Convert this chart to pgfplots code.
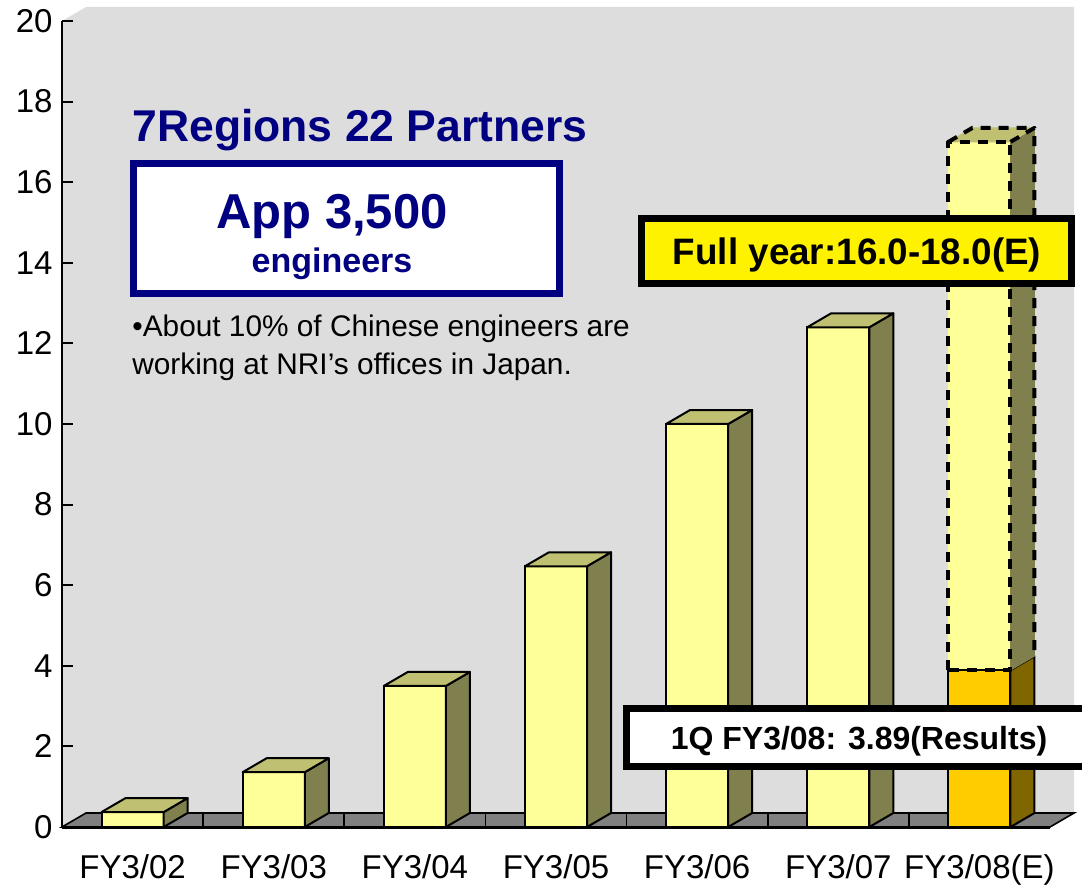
\documentclass[border=0pt]{standalone}
\usepackage{pgfplots}
\pgfplotsset{compat=1.18}
\usepackage{pgfplotstable}
\usepackage{fontspec}
\setmainfont{Liberation Sans}
\definecolor{wall}{RGB}{221,221,221}
\definecolor{floorc}{RGB}{128,128,128}
\definecolor{barfront}{RGB}{255,255,153}
\definecolor{barside}{RGB}{128,128,78}
\definecolor{bartop}{RGB}{192,192,115}
\definecolor{orangefront}{RGB}{255,204,0}
\definecolor{orangeside}{RGB}{128,102,0}
\definecolor{navy}{RGB}{0,0,128}
\pgfdeclareplotmark{nothing}{}

\pgfplotstableread{
x val
0 0.37
1 1.36
2 3.50
3 6.47
4 10.00
5 12.40
}\bars
\pgfplotstableread{
x val
6 3.89
}\firstq
\pgfplotstableread{
x base val
6 3.89 17.0
}\fullyear

\newcommand\dx{0.17}
\newcommand\dy{0.347}
\newcommand\hw{0.22}
\tikzset{units/.style={x=70.5714pt,y=20.15pt,line join=round}}

\begin{document}
\begin{tikzpicture}
\begin{axis}[name=ax,
  scale only axis, width=494pt, height=403pt,
  xmin=-0.5, xmax=6.5, ymin=0, ymax=20,
  clip=false,
  axis x line=bottom, axis y line=left,
  axis line style={-, line width=1pt, black},
  x axis line style={line width=1.5pt},
  xtick={0,...,6},
  xticklabels={FY3/02,FY3/03,FY3/04,FY3/05,FY3/06,FY3/07,FY3/08(E)},
  xtick style={draw=none},
  ytick={0,2,...,20},
  ytick style={line width=1pt, black},
  tick align=inside, major tick length=5.5pt,
  /pgf/number format/assume math mode=true,
  tick label style={font=\fontsize{16.5}{19}\selectfont, inner sep=0pt},
  xticklabel style={anchor=base, yshift=-25.5pt},
  yticklabel style={anchor=east, xshift=-4.5pt},
  axis on top,
]
% walls and floor
\addplot[fill=wall, draw=none, forget plot] coordinates {(-0.5,0) (-0.5,20) (-0.33,20.347) (6.67,20.347) (6.67,0.347) (6.5,0)} -- cycle;
\addplot[fill=floorc, draw=black, line width=0.8pt, forget plot] coordinates {(-0.5,0) (-0.33,0.347) (6.67,0.347) (6.5,0)} -- cycle;
\addplot[ycomb, black, line width=0.8pt, mark=none, forget plot] coordinates {(0.5,0.347) (1.5,0.347) (2.5,0.347) (3.5,0.347) (4.5,0.347) (5.5,0.347)};

% front faces
\addplot[ybar, bar width=0.44, bar shift=0pt, fill=barfront, draw=black, line width=1pt, forget plot] table[x=x,y=val]{\bars};
\addplot[ybar, bar width=0.44, bar shift=0pt, fill=barfront, draw=none, forget plot] table[x=x,y=val]{\fullyear};
\addplot[ybar, bar width=0.44, bar shift=0pt, fill=orangefront, draw=black, line width=1pt, forget plot] table[x=x,y=val]{\firstq};

% 3D side and top faces
\addplot[scatter, only marks, mark=nothing, forget plot,
  visualization depends on={\thisrow{val} \as \val},
  scatter/@pre marker code/.code={%
    \begin{scope}[units, line width=1pt]
      \filldraw[fill=barside, draw=black] (\hw,0) -- ++(\dx,\dy) -- ++(0,-\val) -- (\hw,-\val) -- cycle;
      \filldraw[fill=bartop, draw=black] (-\hw,0) -- ++(\dx,\dy) -- ++(2*\hw,0) -- (\hw,0) -- cycle;
    \end{scope}},
  scatter/@post marker code/.code={}
] table[x=x,y=val]{\bars};

\addplot[scatter, only marks, mark=nothing, forget plot,
  visualization depends on={\thisrow{val} \as \val},
  scatter/@pre marker code/.code={%
    \begin{scope}[units, line width=1pt]
      \filldraw[fill=orangeside, draw=black] (\hw,0) -- ++(\dx,\dy) -- ++(0,-\val) -- (\hw,-\val) -- cycle;
    \end{scope}},
  scatter/@post marker code/.code={}
] table[x=x,y=val]{\firstq};

\addplot[scatter, only marks, mark=nothing, forget plot,
  visualization depends on={\thisrow{val}-\thisrow{base} \as \hh},
  scatter/@pre marker code/.code={%
    \begin{scope}[units]
      \fill[barside] (\hw,0) -- ++(\dx,\dy) -- ++(0,-\hh) -- (\hw,-\hh) -- cycle;
      \fill[bartop] (-\hw,0) -- ++(\dx,\dy) -- ++(2*\hw,0) -- (\hw,0) -- cycle;
      \begin{scope}[black, line width=2pt, dash pattern=on 5pt off 4pt]
        \draw (-\hw,-\hh) rectangle (\hw,0);
        \draw (\hw,0) -- ++(\dx,\dy) -- ++(0,-\hh);
        \draw (-\hw,0) -- ++(\dx,\dy) -- ++(2*\hw,0);
      \end{scope}
    \end{scope}},
  scatter/@post marker code/.code={}
] table[x=x,y=val]{\fullyear};

% anchor points for annotations
\coordinate (ttl) at (axis cs:-0.004,17.02);
\coordinate (nbox) at (axis cs:1.516,14.85);
\coordinate (app) at (axis cs:1.413,14.86);
\coordinate (eng) at (axis cs:1.413,13.75);
\coordinate (bl1) at (axis cs:-0.004,12.16);
\coordinate (bl2) at (axis cs:-0.004,11.22);
\coordinate (ybox) at (axis cs:5.129,14.29);
\coordinate (ytxt) at (axis cs:5.133,13.95);
\coordinate (qbox) at (axis cs:5.159,2.221);
\coordinate (qtxt) at (axis cs:5.147,1.911);
\end{axis}

\node[anchor=base west, text=navy, font=\bfseries\fontsize{22.25}{26}\selectfont, inner sep=0pt] at (ttl) {7Regions 22 Partners};
\node[draw=navy, fill=white, line width=3.5pt, minimum width=213pt, minimum height=65pt, inner sep=0pt] at (nbox) {};
\node[anchor=base, text=navy, font=\bfseries\fontsize{24.5}{28}\selectfont, inner sep=0pt] at (app) {App 3,500};
\node[anchor=base, text=navy, font=\bfseries\fontsize{17}{20}\selectfont, inner sep=0pt] at (eng) {engineers};
\node[anchor=base west, font=\fontsize{14.9}{19}\selectfont, inner sep=0pt] at (bl1) {•About 10\% of Chinese engineers are};
\node[anchor=base west, font=\fontsize{14.9}{19}\selectfont, inner sep=0pt] at (bl2) {working at NRI’s offices in Japan.};

\node[draw=black, fill=yellow, line width=3.5pt, minimum width=215pt, minimum height=32.5pt, inner sep=0pt] at (ybox) {};
\node[anchor=base, font=\bfseries\fontsize{18.4}{22}\selectfont, inner sep=0pt] at (ytxt) {Full year:16.0-18.0(E)};

\node[draw=black, fill=white, line width=3.5pt, minimum width=234pt, minimum height=29pt, inner sep=0pt] at (qbox) {};
\node[anchor=base, font=\bfseries\fontsize{16}{19}\selectfont, inner sep=0pt] at (qtxt) {1Q FY3/08: 3.89(Results)};

\pgfresetboundingbox
\path[use as bounding box] ([shift={(-31pt,-29.5pt)}]ax.south west) rectangle ([shift={(16pt,10.5pt)}]ax.north east);
\end{tikzpicture}
\end{document}
